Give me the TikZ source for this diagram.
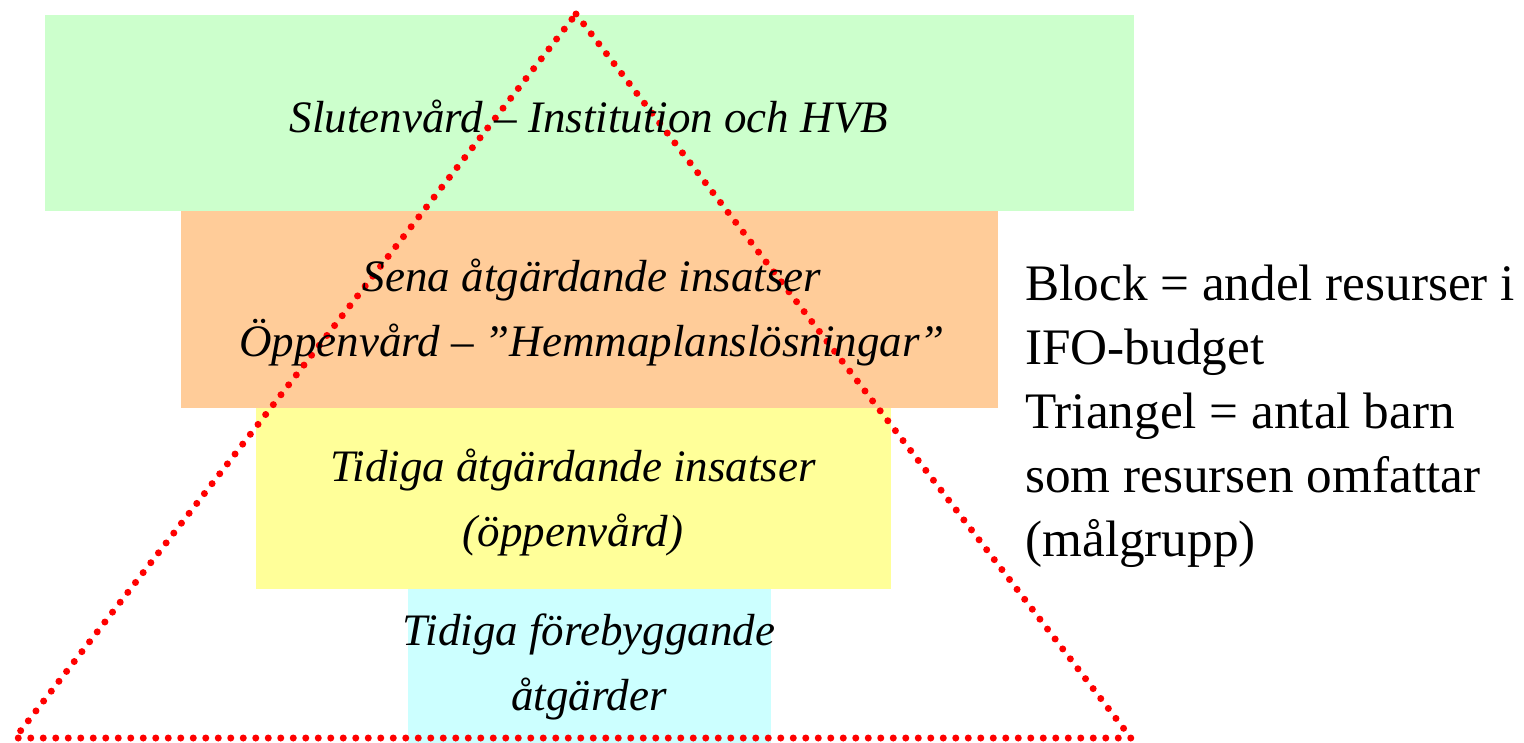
\documentclass[tikz,border=0pt]{standalone}
\usepackage{fontspec}
\setmainfont{Liberation Serif}
\definecolor{gronblock}{HTML}{CCFFCC}
\definecolor{orangeblock}{HTML}{FFCC99}
\definecolor{gulblock}{HTML}{FFFF99}
\definecolor{cyanblock}{HTML}{CCFFFF}
\begin{document}
\begin{tikzpicture}[x=0.5pt, y=-0.5pt, line join=round, line cap=round,
	blocktext/.style={font=\fontsize{22.5}{32.5}\selectfont\itshape, align=center, inner sep=0pt},
	forklaring/.style={font=\fontsize{25.6}{32}\selectfont, align=left, inner sep=0pt, anchor=north west}]
			\def\topx{576} \def\topy{14} % spets
			\def\botl{15} \def\botr{1131} \def\boty{738} % bas
			\useasboundingbox (0,0) rectangle (1524,743);
			\fill[gronblock] (45,15) rectangle (1134,211);
			\fill[orangeblock] (181,211) rectangle (998,408);
			\fill[gulblock] (256,408) rectangle (891,589);
			\fill[cyanblock] (408,589) rectangle (771,743);
			\draw[red, line width=3.5pt, dash pattern=on 0pt off 6.25pt] (\topx,\topy) -- (\botr,\boty) -- (\botl,\boty) -- cycle;
			\node[blocktext] (sluten) at (589,117) {Slutenvård – Institution och HVB};
			\node[blocktext] (sena) at (592,313) {Sena åtgärdande insatser\\Öppenvård – ”Hemmaplanslösningar”};
			\node[blocktext] (tidiga) at (573,503) {Tidiga åtgärdande insatser\\(öppenvård)};
			\node[blocktext] (forebygg) at (589,667) {Tidiga förebyggande\\åtgärder};
			\node[forklaring] (text) at (1025,265) {Block = andel resurser i\\IFO-budget\\Triangel = antal barn\\som resursen omfattar\\(målgrupp)};
\end{tikzpicture}
\end{document}
